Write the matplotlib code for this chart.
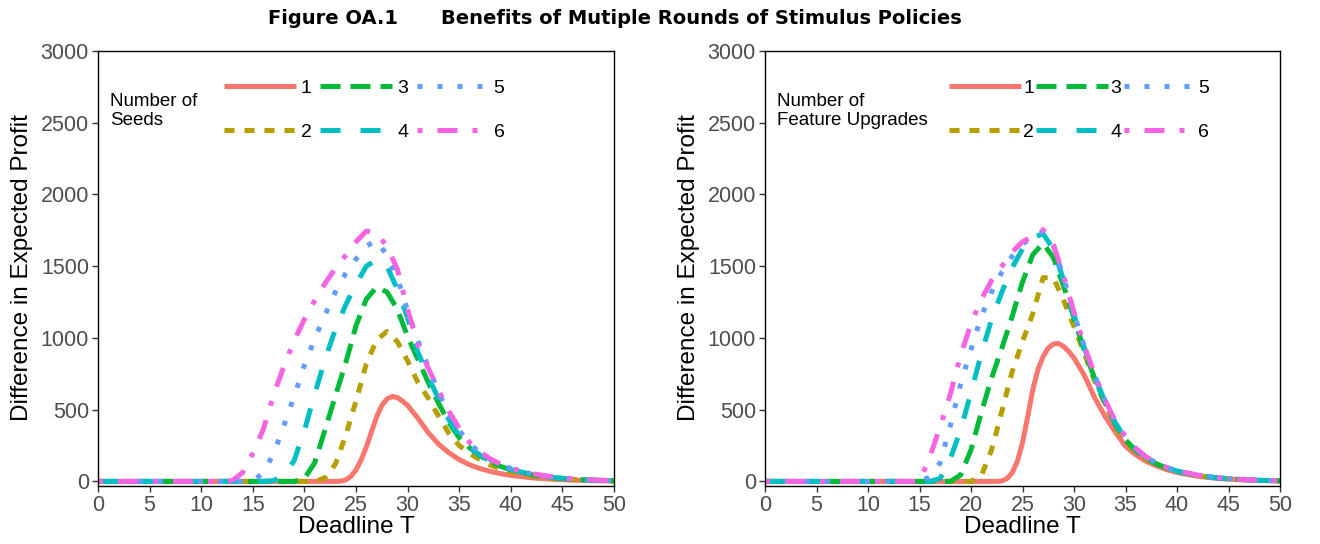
import matplotlib.pyplot as plt

plt.rcParams['font.family'] = ['Liberation Sans', 'DejaVu Sans']

# Deadline values
T = [0, 5, 10, 11, 12, 13, 14, 15, 16, 17, 18, 19, 20, 21, 22, 23, 24, 25, 26, 27, 28, 29,
     30, 31, 32, 33, 34, 35, 36, 37, 38, 39, 40, 42, 44, 46, 48, 50]

# finer grid for the solid series (1), read at half steps around the peak
T_fine = [0, 5, 10, 15, 20, 22, 22.5, 23, 23.5, 24, 24.5, 25, 25.5, 26, 26.5, 27, 27.5, 28, 28.5,
          29, 29.5, 30, 31, 32, 33, 34, 35, 36, 37, 38, 39, 40, 42, 44, 46, 48, 50]

# Left panel: number of seeds
seeds_1 = [0, 0, 0, 0, 0, 0, 0, 0, 2, 10, 35, 80, 150, 240, 345, 450, 530, 575, 592,
           585, 560, 530, 440, 340, 260, 200, 152, 116, 90, 70, 54, 42, 25, 15, 9, 5, 3]
seeds_2 = [0, 0, 0, 0, 0, 0, 0, 0, 0, 0, 0, 0, 0, 0, 25, 120, 320, 560, 820, 985, 1045, 975,
           840, 690, 580, 455, 335, 250, 195, 152, 115, 87, 66, 38, 22, 13, 7, 4]
seeds_3 = [0, 0, 0, 0, 0, 0, 0, 0, 0, 0, 0, 0, 20, 130, 360, 595, 825, 1085, 1270, 1355, 1320, 1200,
           1010, 850, 690, 545, 410, 305, 235, 180, 138, 105, 80, 47, 27, 15, 8, 4]
seeds_4 = [0, 0, 0, 0, 0, 0, 0, 0, 0, 5, 40, 145, 355, 610, 850, 1060, 1230, 1375, 1500, 1545, 1500, 1340,
           1140, 900, 730, 575, 430, 320, 238, 183, 142, 108, 83, 49, 28, 16, 9, 5]
seeds_5 = [0, 0, 0, 0, 0, 0, 0, 0, 60, 190, 385, 590, 810, 995, 1160, 1320, 1450, 1550, 1640, 1680, 1575, 1420,
           1190, 980, 800, 620, 470, 355, 265, 198, 152, 116, 89, 52, 30, 17, 10, 5]
seeds_6 = [0, 0, 0, 0, 0, 5, 60, 195, 360, 600, 800, 980, 1130, 1260, 1380, 1485, 1575, 1670, 1745, 1730, 1640, 1480,
           1200, 950, 790, 635, 490, 370, 272, 205, 158, 120, 92, 55, 32, 18, 10, 5]

# Right panel: number of feature upgrades
feat_1 = [0, 0, 0, 0, 0, 0, 0, 3, 20, 60, 140, 270, 450, 640, 780, 870, 930, 958, 962,
          940, 905, 860, 740, 585, 455, 345, 245, 185, 140, 108, 82, 62, 36, 20, 12, 7, 3]
feat_2 = [0, 0, 0, 0, 0, 0, 0, 0, 0, 0, 0, 0, 0, 40, 220, 490, 766, 975, 1170, 1420, 1420, 1260,
          1080, 890, 700, 540, 390, 275, 205, 155, 118, 90, 68, 40, 23, 13, 7, 4]
feat_3 = [0, 0, 0, 0, 0, 0, 0, 0, 0, 0, 0, 45, 220, 480, 720, 930, 1150, 1390, 1580, 1660, 1560, 1360,
          1140, 910, 720, 550, 400, 290, 215, 160, 122, 93, 70, 41, 24, 14, 8, 4]
feat_4 = [0, 0, 0, 0, 0, 0, 0, 0, 0, 20, 160, 360, 620, 890, 1130, 1320, 1490, 1620, 1700, 1725, 1620, 1400,
          1160, 930, 730, 560, 410, 300, 225, 168, 127, 96, 72, 42, 24, 14, 8, 4]
feat_5 = [0, 0, 0, 0, 0, 0, 0, 0, 30, 130, 390, 680, 920, 1150, 1320, 1460, 1570, 1650, 1715, 1740, 1640, 1420,
          1170, 940, 740, 565, 415, 305, 228, 170, 128, 97, 73, 43, 25, 14, 8, 4]
feat_6 = [0, 0, 0, 0, 0, 0, 0, 0, 170, 380, 610, 880, 1100, 1270, 1400, 1500, 1600, 1670, 1710, 1755, 1650, 1430,
          1180, 945, 745, 570, 420, 310, 230, 172, 130, 98, 74, 44, 25, 15, 8, 4]

labels = ['1', '2', '3', '4', '5', '6']
colors = ['#F8766D', '#B79F00', '#00BA38', '#00BFC4', '#619CFF', '#F564E3']
styles = ['-', (0, (2, 2)), (0, (4, 2)), (0, (4, 4)), (0, (1, 3)), (0, (1, 3, 4, 3))]

fig = plt.figure(figsize=(13.2, 5.44), dpi=100)
W, H = 1320, 544
ax1 = fig.add_axes([98 / W, 1 - 486 / H, 516 / W, 435 / H])
ax2 = fig.add_axes([765 / W, 1 - 486 / H, 515 / W, 435 / H])

panels = [
    (ax1, [seeds_1, seeds_2, seeds_3, seeds_4, seeds_5, seeds_6], 'Number of\nSeeds',
     0.244, 0.25, 0.45),
    (ax2, [feat_1, feat_2, feat_3, feat_4, feat_5, feat_6], 'Number of\nFeature Upgrades',
     0.357, 0.12, 0.12),
]

for ax, series, title, lx, tpad, cspace in panels:
    for i, (y, lab, c, ls) in enumerate(zip(series, labels, colors, styles)):
        x = T_fine if i == 0 else T
        ax.plot(x, y, color=c, linestyle=ls, linewidth=3.6, label=lab,
                dash_capstyle='butt', solid_capstyle='butt')
    ax.set_xlim(0, 50)
    ax.set_ylim(-32, 3000)
    ax.set_xticks(range(0, 51, 5))
    ax.set_yticks(range(0, 3001, 500))
    ax.tick_params(labelsize=15.5, labelcolor='#4D4D4D', color='#333333',
                   length=4.5, width=1, direction='out', pad=2)
    for s in ax.spines.values():
        s.set_linewidth(1.0)
        s.set_color('black')
    ax.legend(ncol=3, loc='upper left', bbox_to_anchor=(lx, 0.935), frameon=False,
              fontsize=14, handlelength=3.7, handletextpad=tpad,
              columnspacing=cspace, labelspacing=1.35, borderpad=0,
              borderaxespad=0)
    ax.text(0.023, 0.862, title, transform=ax.transAxes, fontsize=13.5,
            ha='left', va='center', linespacing=1.1)

fig.text(22 / W, 1 - 268 / H, 'Difference in Expected Profit', rotation=90,
         ha='center', va='center', fontsize=17.5)
fig.text(689 / W, 1 - 268 / H, 'Difference in Expected Profit', rotation=90,
         ha='center', va='center', fontsize=17.5)
fig.text(356 / W, 1 - 527 / H, 'Deadline T', ha='center', va='center', fontsize=17.5)
fig.text(1022 / W, 1 - 527 / H, 'Deadline T', ha='center', va='center', fontsize=17.5)

fig.text(333 / W, 1 - 18 / H, 'Figure OA.1', ha='center', va='center',
         fontsize=14, fontweight='bold', family='DejaVu Sans')
fig.text(441 / W, 1 - 18 / H, 'Benefits of Mutiple Rounds of Stimulus Policies',
         ha='left', va='center', fontsize=14, fontweight='bold', family='DejaVu Sans')

fig.savefig('out.png', dpi=100)
